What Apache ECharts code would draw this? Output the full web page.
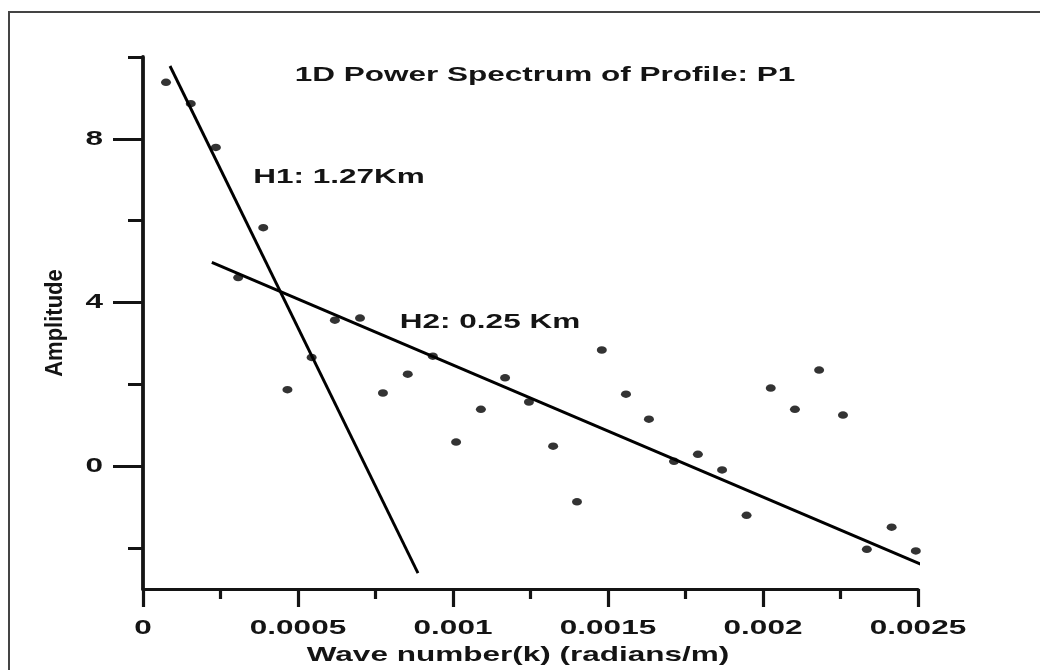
<!DOCTYPE html>
<html><head><meta charset="utf-8">
<script src="https://cdn.jsdelivr.net/npm/echarts@6/dist/echarts.min.js"></script>
<style>html,body{margin:0;padding:0;background:#fff}#c{width:1040px;height:670px}</style>
</head><body><div id="c"></div>
<script>
// ---- data ----
const waveNumber = [0.0000742, 0.000154, 0.000235, 0.000307, 0.000388, 0.000466, 0.000544, 0.000619,
  0.000700, 0.000774, 0.000854, 0.000935, 0.001010, 0.001090, 0.001168, 0.001245,
  0.001323, 0.001400, 0.001480, 0.001558, 0.001632, 0.001713, 0.001790, 0.001868,
  0.001947, 0.002025, 0.002103, 0.002181, 0.002258, 0.002335, 0.002415, 0.002493];
const amplitude = [9.38, 8.86, 7.79, 4.61, 5.83, 1.87, 2.66, 3.57,
  3.62, 1.79, 2.25, 2.69, 0.59, 1.39, 2.16, 1.57,
  0.49, -0.87, 2.84, 1.76, 1.15, 0.12, 0.29, -0.09,
  -1.20, 1.91, 1.39, 2.35, 1.25, -2.03, -1.49, -2.07];
const h1LineX = [0.0000871, 0.000887];
const h1LineY = [9.78, -2.61];
const h2LineX = [0.000222, 0.002523];
const h2LineY = [4.98, -2.44];
const xTickLabels = [0, 0.0005, 0.001, 0.0015, 0.002, 0.0025];
const yTickLabels = [0, 4, 8];
const yMinorTicks = [-2, 0, 2, 4, 6, 8, 10];
const titleText = '1D Power Spectrum of Profile: P1';
const h1Text = 'H1: 1.27Km';
const h2Text = 'H2: 0.25 Km';
const xName = 'Wave number(k) (radians/m)';
const yName = 'Amplitude';

const ink = '#141414';
const font = 'bold 21px "Liberation Sans", Arial, sans-serif';

const chart = echarts.init(document.getElementById('c'));
const zip = (xs, ys) => xs.map((x, i) => [x, ys[i]]);
chart.setOption({
  animation: false,
  backgroundColor: '#fff',
  grid: { left: 143, right: 122, top: 57, bottom: 81 },
  xAxis: {
    type: 'value', min: 0, max: 0.0025, interval: 0.0005,
    axisLine: { show: true, onZero: false, lineStyle: { color: ink, width: 3.2 } },
    axisTick: { show: true, length: 18, lineStyle: { color: ink, width: 3.2 } },
    minorTick: { show: true, splitNumber: 2, length: 10, lineStyle: { color: ink, width: 3.2 } },
    axisLabel: { show: false },
    splitLine: { show: false }
  },
  yAxis: [{
    type: 'value', min: -3, max: 10,
    axisLine: { show: true, onZero: false, lineStyle: { color: ink, width: 3.8 } },
    axisTick: { show: true, customValues: yMinorTicks, length: 15, lineStyle: { color: ink, width: 3 } },
    axisLabel: { show: false },
    splitLine: { show: false }
  }, {
    type: 'value', min: -3, max: 10, position: 'left',
    axisLine: { show: false, onZero: false },
    axisTick: { show: true, customValues: yTickLabels, length: 30, lineStyle: { color: ink, width: 3 } },
    axisLabel: { show: false },
    splitLine: { show: false }
  }],
  series: [{
    type: 'scatter', data: zip(waveNumber, amplitude),
    symbol: 'circle', symbolSize: [10, 7.5], itemStyle: { color: '#000' }, z: 4
  }, {
    type: 'line', data: zip(h1LineX, h1LineY), showSymbol: false,
    lineStyle: { color: '#000', width: 2.9 }, z: 3
  }, {
    type: 'line', data: zip(h2LineX, h2LineY), showSymbol: false,
    lineStyle: { color: '#000', width: 2.9 }, z: 3
  }]
});

const g = [];
g.push({ type: 'rect', shape: { x: 9, y: 12, width: 1100, height: 700 },
  style: { fill: 'none', stroke: '#444', lineWidth: 2 }, z: -1 });
const txt = (text, x, y, opts) => Object.assign({
  type: 'text', x: x, y: y, scaleX: 1.5, z: 10,
  style: { text: text, font: font, fill: ink, align: 'center', verticalAlign: 'middle' }
}, opts || {});
xTickLabels.forEach(v => {
  const px = chart.convertToPixel({ xAxisIndex: 0 }, v);
  g.push(txt(String(v), px, 628));
});
yTickLabels.forEach(v => {
  const py = chart.convertToPixel({ yAxisIndex: 0 }, v);
  const t = txt(String(v), 103, py);
  t.style.align = 'right';
  g.push(t);
});
g.push(txt(titleText, 545, 75));
g.push(txt(h1Text, 339, 177));
g.push(txt(h2Text, 490, 322));
g.push(txt(xName, 518, 655));
g.push({ type: 'text', x: 56, y: 323, rotation: Math.PI / 2, scaleX: 1.1, scaleY: 1.15, z: 10,
  style: { text: yName, font: 'bold 20px "Liberation Sans", Arial, sans-serif', fill: ink,
    align: 'center', verticalAlign: 'middle' } });
chart.setOption({ graphic: g });
</script>
</body></html>
